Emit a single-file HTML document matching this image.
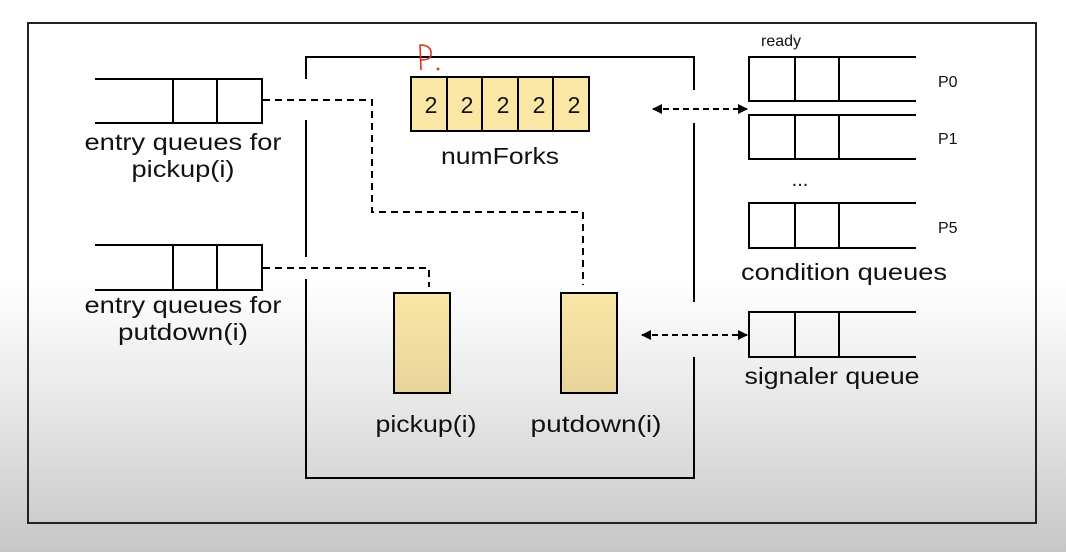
<!DOCTYPE html>
<html><head><meta charset="utf-8"><style>
html,body{margin:0;padding:0;}
body{width:1066px;height:552px;overflow:hidden;background:linear-gradient(to bottom,#fff 0px,#fff 280px,#e4e4e4 420px,#c6c6c6 552px);}
svg{display:block;font-family:"Liberation Sans",sans-serif;}
</style></head><body>
<svg width="1066" height="552" viewBox="0 0 1066 552">
<defs>
<marker id="ah" viewBox="0 0 10 10" refX="9" refY="5" markerWidth="10" markerHeight="10" markerUnits="userSpaceOnUse" orient="auto-start-reverse"><path d="M0,0 L10,5 L0,10 z" fill="#000"/></marker>
<linearGradient id="pg" x1="0" y1="0" x2="0" y2="1"><stop offset="0" stop-color="#fae7a6"/><stop offset="1" stop-color="#e8d49a"/></linearGradient>
</defs>
<rect x="28" y="23" width="1008" height="500" fill="none" stroke="#222" stroke-width="2"/>
<g stroke="#000" stroke-width="2" fill="none">
<path d="M306,79 V57 H694 V90"/>
<path d="M694,123 V302"/>
<path d="M694,357 V478 H306 V279"/>
<path d="M306,120 V257"/>
</g>
<g stroke="#000" stroke-width="2" fill="none">
<path d="M95,79 H262 V123 H95 M173,79 V123 M217,79 V123"/>
<path d="M95,245 H262 V290 H95 M173,245 V290 M217,245 V290"/>
</g>
<g stroke="#000" stroke-width="2" fill="none" stroke-dasharray="7,5">
<path d="M263,100 H372 V212 H583 V285"/>
<path d="M263,268 H429 V287"/>
</g>
<g stroke="#000" stroke-width="2" fill="#fae7a6">
<rect x="411" y="77" width="178" height="54"/>
<path d="M447,77 V131 M482,77 V131 M518,77 V131 M553,77 V131"/>
</g>
<g font-size="23" fill="#111" text-anchor="middle">
<text x="431" y="113">2</text><text x="467" y="113">2</text><text x="503" y="113">2</text><text x="539" y="113">2</text><text x="574" y="113">2</text>
</g>
<text x="500" y="164" font-size="23" text-anchor="middle" fill="#111" textLength="118" lengthAdjust="spacingAndGlyphs">numForks</text>
<path d="M421,70 L420,45 Q432,45 431,55 Q430,60 421,60" stroke="#e03020" stroke-width="1.6" fill="none"/>
<circle cx="438" cy="69" r="1.4" fill="#e03020"/>
<rect x="394" y="293" width="56" height="100" fill="url(#pg)" stroke="#000" stroke-width="2"/>
<rect x="561" y="293" width="56" height="100" fill="url(#pg)" stroke="#000" stroke-width="2"/>
<text x="426" y="432" font-size="23" text-anchor="middle" fill="#111" textLength="101" lengthAdjust="spacingAndGlyphs">pickup(i)</text>
<text x="596" y="432" font-size="23" text-anchor="middle" fill="#111" textLength="131" lengthAdjust="spacingAndGlyphs">putdown(i)</text>
<g font-size="23" text-anchor="middle" fill="#111">
<text x="183" y="150" textLength="197" lengthAdjust="spacingAndGlyphs">entry queues for</text>
<text x="183" y="177" textLength="103" lengthAdjust="spacingAndGlyphs">pickup(i)</text>
<text x="183" y="313" textLength="197" lengthAdjust="spacingAndGlyphs">entry queues for</text>
<text x="183" y="340" textLength="130" lengthAdjust="spacingAndGlyphs">putdown(i)</text>
</g>
<g stroke="#000" stroke-width="2" fill="none">
<path d="M916,57 H749 V101 H916 M795,57 V101 M839,57 V101"/>
<path d="M916,115 H749 V159 H916 M795,115 V159 M839,115 V159"/>
<path d="M916,203 H749 V248 H916 M795,203 V248 M839,203 V248"/>
<path d="M916,312 H749 V357 H916 M795,312 V357 M839,312 V357"/>
</g>
<g stroke="#000" stroke-width="2" stroke-dasharray="6,4" fill="none">
<line x1="653" y1="109" x2="747" y2="109" marker-start="url(#ah)" marker-end="url(#ah)"/>
<line x1="642" y1="335" x2="747" y2="335" marker-start="url(#ah)" marker-end="url(#ah)"/>
</g>
<g font-size="16" fill="#111">
<text x="761" y="46">ready</text>
<text x="938" y="87">P0</text>
<text x="938" y="144">P1</text>
<text x="938" y="233">P5</text>
</g>
<text x="800" y="186" font-size="20" text-anchor="middle" fill="#111">...</text>
<text x="844" y="280" font-size="23" text-anchor="middle" fill="#111" textLength="206" lengthAdjust="spacingAndGlyphs">condition queues</text>
<text x="832" y="384" font-size="23" text-anchor="middle" fill="#111" textLength="175" lengthAdjust="spacingAndGlyphs">signaler queue</text>
</svg>
</body></html>
